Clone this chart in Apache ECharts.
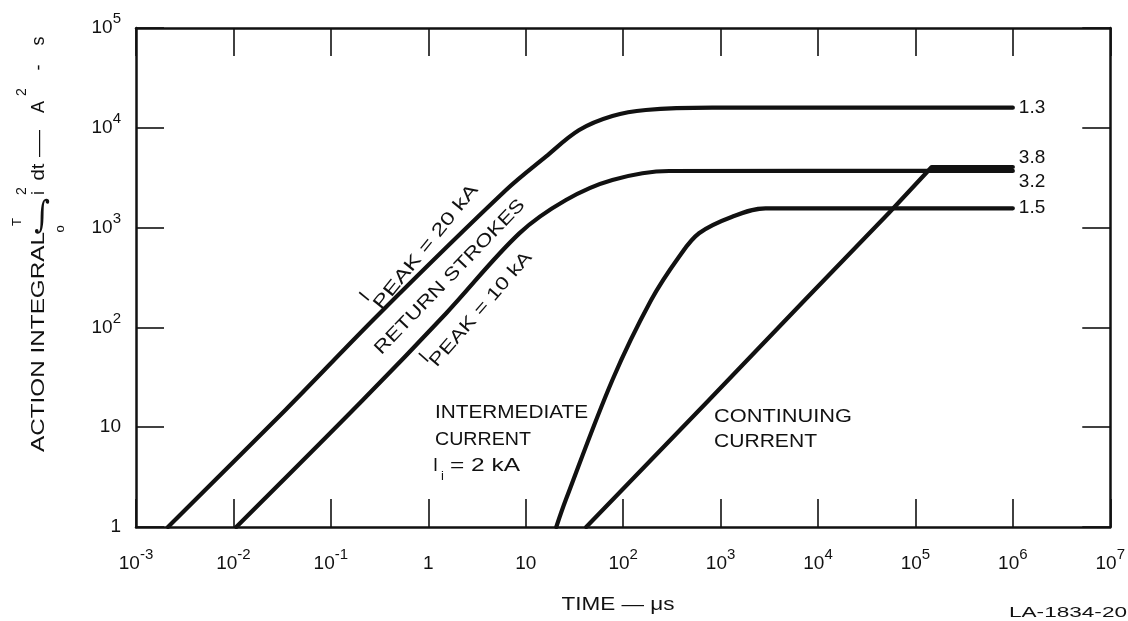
<!DOCTYPE html>
<html>
<head>
<meta charset="utf-8">
<script src="https://cdn.jsdelivr.net/npm/echarts@6/dist/echarts.min.js"></script>
<style>
html,body{margin:0;padding:0;background:#fff;}
#c{width:1128px;height:621px;}
</style>
</head>
<body>
<div id="c"></div>
<script>
// ---------------- data ----------------
// tick labels: [mantissa, exponent]
const xTickLabels = [['10','-3'],['10','-2'],['10','-1'],['1',''],['10',''],['10','2'],['10','3'],['10','4'],['10','5'],['10','6'],['10','7']];
const yTickLabels = [['1',''],['10',''],['10','2'],['10','3'],['10','4'],['10','5']];

// Return stroke, I_PEAK = 20 kA  (time in µs, action integral in A²·s)
const rs20Time   = [0.00213, 0.0342, 0.316, 6.28, 16.1, 35.4, 77.6, 171, 823, 1e6];
const rs20Action = [1, 14.9, 138, 2380, 5140, 9500, 13130, 15070, 15900, 15900];

// Return stroke, I_PEAK = 10 kA
const rs10Time   = [0.0107, 0.213, 1.52, 8.6, 25.9, 77.6, 296, 1e6];
const rs10Action = [1, 18.7, 138, 875, 1890, 3000, 3690, 3700];

// Intermediate current, I_i = 2 kA
const intTime   = [20.6, 25.8, 77.6, 194, 375, 601, 1318, 2897, 1e6];
const intAction = [1, 1.87, 29.7, 188, 511, 877, 1285, 1560, 1560];

// Continuing current
const ccTime   = [41.8, 761, 7330, 53100, 147000, 1e6];
const ccAction = [1, 18.7, 188, 1390, 4050, 4050];

// end-of-curve labels (×10^n)
const endLabels = ['1.3', '3.2', '1.5', '3.8'];

// ---------------- helpers ----------------
const FONT = '"Liberation Sans", Arial, Helvetica, sans-serif';
const INK = '#111';
const mctx = document.createElement('canvas').getContext('2d');
function textWidth(t, size, fam) { mctx.font = size + 'px ' + (fam || FONT); return mctx.measureText(t).width; }
function pairs(t, a) { return t.map((v, i) => [v, a[i]]); }
function T(text, x, y, o) {
  o = o || {};
  const size = o.size || 18;
  const fam = o.fam || FONT;
  const sx = o.w ? o.w / textWidth(text, size, fam) : 1;
  return {
    type: 'text', x: x, y: y, silent: true,
    rotation: (o.rot || 0) * Math.PI / 180,
    scaleX: sx, scaleY: o.sy || 1, originX: 0, originY: 0,
    style: { text: text, fontSize: size, fontFamily: fam, fill: INK,
             align: o.align || 'center', verticalAlign: 'middle' }
  };
}
function tickFmt(labels, offset) {
  return function (v) {
    const e = Math.round(Math.log10(v));
    const L = labels[e + offset];
    if (!L) return '';
    return L[1] ? '{b|' + L[0] + '}{s|' + L[1] + '}' : '{b|' + L[0] + '}';
  };
}
const rich = {
  b: { fontSize: 19, lineHeight: 22, verticalAlign: 'middle', fontFamily: FONT, color: INK },
  s: { fontSize: 15, lineHeight: 4, padding: [0, 0, 18, 0], verticalAlign: 'middle', fontFamily: FONT, color: INK }
};
const axisLine = { show: true, onZero: false, lineStyle: { color: INK, width: 2.5 } };
const axisTick = { show: true, inside: true, length: 28, lineStyle: { color: INK, width: 1.6 } };

function logX(pos, showLabel) {
  return {
    type: 'log', logBase: 10, min: 0.001, max: 1e7, interval: 1, splitNumber: 10,
    position: pos, axisLine: axisLine, axisTick: axisTick,
    splitLine: { show: false }, minorTick: { show: false },
    axisLabel: showLabel ? { show: true, margin: 26, showMinLabel: true, showMaxLabel: true,
      formatter: tickFmt(xTickLabels, 3), rich: rich, fontSize: 19, fontFamily: FONT, color: INK }
      : { show: false }
  };
}
function logY(pos, showLabel) {
  return {
    type: 'log', logBase: 10, min: 1, max: 1e5, interval: 1, splitNumber: 5,
    position: pos, axisLine: axisLine, axisTick: axisTick,
    splitLine: { show: false }, minorTick: { show: false },
    axisLabel: showLabel ? { show: true, margin: 15, showMinLabel: true, showMaxLabel: true,
      formatter: tickFmt(yTickLabels, 0), rich: rich, fontSize: 19, fontFamily: FONT, color: INK }
      : { show: false }
  };
}
function curve(name, t, a, lbl, dy, smooth) {
  return {
    name: name, type: 'line', data: pairs(t, a), xAxisIndex: 0, yAxisIndex: 0,
    symbol: 'none', smooth: smooth, silent: true,
    lineStyle: { color: INK, width: 4.2, cap: 'round', join: 'round' },
    endLabel: { show: true, formatter: lbl, distance: 6, offset: [0, dy],
      fontSize: 19, fontFamily: FONT, color: INK }
  };
}

const chart = echarts.init(document.getElementById('c'), null, { renderer: 'canvas' });
chart.setOption({
  animation: false,
  backgroundColor: '#fff',
  grid: { left: 136, right: 16, top: 28, bottom: 94 },
  xAxis: [logX('bottom', true), logX('top', false)],
  yAxis: [logY('left', true), logY('right', false)],
  series: [
    curve('Return stroke 20 kA', rs20Time, rs20Action, endLabels[0], 0, 0.35),
    curve('Return stroke 10 kA', rs10Time, rs10Action, endLabels[1], 11, 0.35),
    curve('Intermediate current', intTime, intAction, endLabels[2], -1, 0.35),
    curve('Continuing current', ccTime, ccAction, endLabels[3], -9, false)
  ],
  graphic: [
    // y-axis title (rotated)
    T('ACTION INTEGRAL', 39, 342, { rot: 90, w: 220 }),
    T('\u222B', 42, 217, { size: 30, fam: '"DejaVu Serif", "DejaVu Sans", serif', sy: 1.25 }),
    T('T', 17, 222, { rot: 90, size: 13 }),
    T('o', 60, 229, { rot: 90, size: 13 }),
    T('i', 39, 193, { rot: 90 }),
    T('2', 22, 191, { rot: 90, size: 14 }),
    T('dt', 39, 172, { rot: 90, w: 17 }),
    T('\u2014', 39, 143.5, { rot: 90, w: 27 }),
    T('A', 39, 107, { rot: 90 }),
    T('2', 22, 92, { rot: 90, size: 14 }),
    T('-', 39, 67.5, { rot: 90 }),
    T('s', 39, 41, { rot: 90 }),
    // x-axis title
    T('TIME \u2014 \u03BCs', 618, 605, { w: 113 }),
    T('LA-1834-20', 1068, 613, { size: 14, w: 118 }),
    // annotations
    T('I', 365, 297, { rot: 51 }),
    T('PEAK = 20 kA', 426, 247, { rot: 51, w: 155 }),
    T('RETURN STROKES', 450, 277, { rot: 46, w: 208 }),
    T('I', 424.5, 358, { rot: 49 }),
    T('PEAK = 10 kA', 481, 309.5, { rot: 49, w: 146 }),
    T('INTERMEDIATE', 435, 413.5, { align: 'left', w: 153 }),
    T('CURRENT', 435, 440, { align: 'left', w: 96 }),
    T('I', 433, 466.5, { align: 'left' }),
    T('i', 442.5, 476, { size: 13 }),
    T('= 2 kA', 450, 466.5, { align: 'left', w: 70 }),
    T('CONTINUING', 714, 417, { align: 'left', w: 138 }),
    T('CURRENT', 714, 442, { align: 'left', w: 103 })
  ]
});
</script>
</body>
</html>
